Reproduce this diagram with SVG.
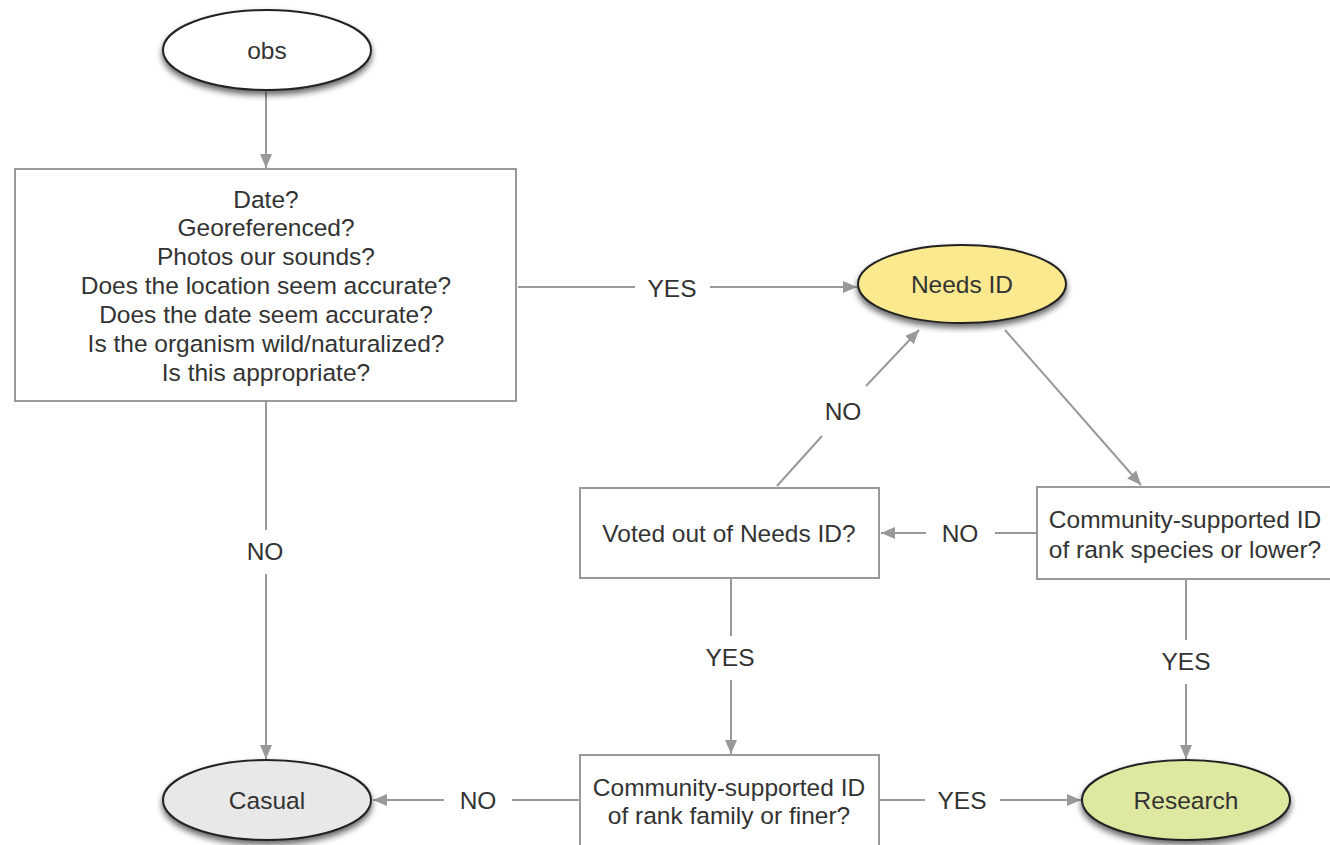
<svg xmlns="http://www.w3.org/2000/svg" width="1330" height="845" viewBox="0 0 1330 845">
<style>
text{font-family:"Liberation Sans",Arial,sans-serif;font-size:24.5px;fill:#333;text-anchor:middle;dominant-baseline:central}
.ell{stroke:#222;stroke-width:2;filter:url(#sh)}
.box{fill:#fff;stroke:#999;stroke-width:2}
.con line{stroke:#999;stroke-width:2;fill:none}
.arr{marker-end:url(#ah)}
</style>
<defs>
<marker id="ah" markerUnits="userSpaceOnUse" markerWidth="14" markerHeight="12" viewBox="0 0 14 12" refX="14" refY="6" orient="auto">
<path d="M0,0 L14,6 L0,12 Z" fill="#999"/>
</marker>
<filter id="sh" x="-20%" y="-30%" width="140%" height="170%">
<feGaussianBlur in="SourceAlpha" stdDeviation="3"/>
<feOffset dx="0" dy="4" result="b"/>
<feComponentTransfer><feFuncA type="linear" slope="0.6"/></feComponentTransfer>
<feMerge><feMergeNode/><feMergeNode in="SourceGraphic"/></feMerge>
</filter>
</defs>
<rect width="1330" height="845" fill="#fff"/>
<g id="connectors" class="con">
<line class="arr" x1="266" y1="92" x2="266" y2="168"/>
<line x1="518" y1="287" x2="635" y2="287"/>
<line class="arr" x1="710" y1="287" x2="857" y2="287"/>
<text x="672" y="288">YES</text>
<line class="arr" x1="1005" y1="330" x2="1141" y2="485"/>
<line x1="1036" y1="533" x2="995" y2="533"/>
<line class="arr" x1="926" y1="533" x2="881" y2="533"/>
<text x="960" y="533">NO</text>
<line x1="777" y1="486" x2="822" y2="436"/>
<line class="arr" x1="866" y1="386" x2="919" y2="330"/>
<text x="843" y="411">NO</text>
<line x1="731" y1="579" x2="731" y2="636"/>
<line class="arr" x1="731" y1="680" x2="731" y2="754"/>
<text x="730" y="657">YES</text>
<line x1="579" y1="800" x2="512" y2="800"/>
<line class="arr" x1="444" y1="800" x2="373" y2="800"/>
<text x="478" y="800">NO</text>
<line x1="266" y1="402" x2="266" y2="530"/>
<line class="arr" x1="266" y1="574" x2="266" y2="759"/>
<text x="265" y="551">NO</text>
<line x1="880" y1="800" x2="925" y2="800"/>
<line class="arr" x1="1000" y1="800" x2="1081" y2="800"/>
<text x="962" y="800">YES</text>
<line x1="1186" y1="580" x2="1186" y2="640"/>
<line class="arr" x1="1186" y1="684" x2="1186" y2="759"/>
<text x="1186" y="661">YES</text>
</g>
<g id="obs">
<ellipse class="ell" cx="267" cy="50" rx="104" ry="40" fill="#fff"/>
<text x="267" y="50">obs</text>
</g>
<g id="checks">
<rect class="box" x="15" y="169" width="501" height="232"/>
<text x="266" y="199">Date?</text>
<text x="266" y="227">Georeferenced?</text>
<text x="266" y="256">Photos our sounds?</text>
<text x="266" y="285">Does the location seem accurate?</text>
<text x="266" y="314">Does the date seem accurate?</text>
<text x="266" y="343">Is the organism wild/naturalized?</text>
<text x="266" y="372">Is this appropriate?</text>
</g>
<g id="needs-id">
<ellipse class="ell" cx="962" cy="284" rx="104" ry="39" fill="#fbe98f"/>
<text x="962" y="284">Needs ID</text>
</g>
<g id="species">
<rect class="box" x="1037" y="487" width="300" height="92"/>
<text x="1185" y="519">Community-supported ID</text>
<text x="1185" y="549">of rank species or lower?</text>
</g>
<g id="voted">
<rect class="box" x="580" y="488" width="299" height="90"/>
<text x="729" y="533">Voted out of Needs ID?</text>
</g>
<g id="family">
<rect class="box" x="580" y="755" width="299" height="100"/>
<text x="729" y="787">Community-supported ID</text>
<text x="729" y="815">of rank family or finer?</text>
</g>
<g id="casual">
<ellipse class="ell" cx="267" cy="800" rx="104" ry="40" fill="#e8e8e8"/>
<text x="267" y="800">Casual</text>
</g>
<g id="research">
<ellipse class="ell" cx="1186" cy="800" rx="104" ry="40" fill="#dfe8a0"/>
<text x="1186" y="800">Research</text>
</g>
</svg>
